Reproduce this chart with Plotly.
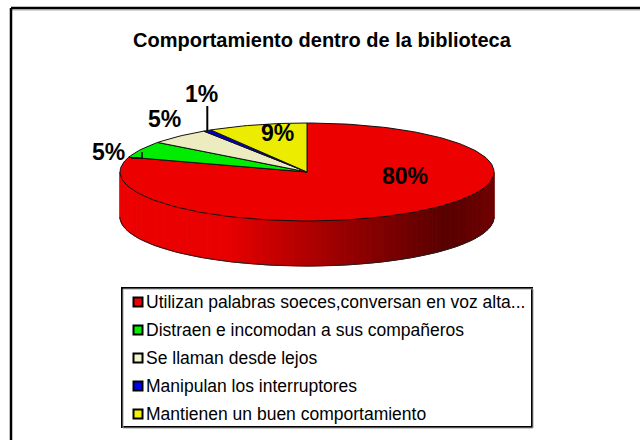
import math
import plotly.graph_objects as go

title = "Comportamiento dentro de la biblioteca"
categories = ["Utilizan palabras soeces,conversan en voz alta...",
              "Distraen e incomodan a sus compañeros",
              "Se llaman desde lejos",
              "Manipulan los interruptores",
              "Mantienen un buen comportamiento"]
values = [79.9, 5.4, 5.4, 0.7, 8.6]
top_colors = ["#EC0000", "#00EC00", "#ECECC0", "#0000CC", "#ECEC00"]
legend_colors = ["#F00000", "#00F000", "#F4F4CC", "#0000F0", "#F4F400"]
labels = ["80%", "5%", "5%", "1%", "9%"]
label_pos = [(405, 176), (108, 152), (164, 119), (201, 94), (277, 133)]

CX, CY, RX, RY, DEPTH = 307, 172, 187, 49, 45
FONT = "Liberation Sans, Arial, sans-serif"


def pt(deg, dy=0):
    a = math.radians(deg)
    return CX + RX * math.sin(a), CY - RY * math.cos(a) + dy


def arc(a0, a1, dy=0):
    n = max(2, int(abs(a1 - a0) / 1.5) + 1)
    return [pt(a0 + (a1 - a0) * i / (n - 1), dy) for i in range(n)]


def side_color(x):
    stops = [(120, (236, 0, 0)), (225, (232, 0, 0)), (330, (160, 0, 0)),
             (445, (88, 0, 0)), (494, (112, 0, 0))]
    for (x0, c0), (x1, c1) in zip(stops, stops[1:]):
        if x <= x1:
            t = (x - x0) / (x1 - x0)
            c = [round(p + (q - p) * t) for p, q in zip(c0, c1)]
            return f"rgb({c[0]},{c[1]},{c[2]})"
    return "rgb(112,0,0)"


fig = go.Figure()


def poly(points, fill, line="black", width=1):
    fig.add_trace(go.Scatter(x=[p[0] for p in points] + [points[0][0]],
                             y=[p[1] for p in points] + [points[0][1]],
                             mode="lines", fill="toself", fillcolor=fill,
                             line=dict(color=line, width=width),
                             hoverinfo="skip", showlegend=False))


# side wall of the wedge that crosses the front of the pie
step = 2
for a in range(90, 270, step):
    pts = arc(a, a + step) + arc(a + step, a, DEPTH)
    col = side_color((pts[0][0] + pts[1][0]) / 2)
    poly(pts, col, col, 1)
fig.add_trace(go.Scatter(x=[p[0] for p in arc(90, 270, DEPTH)],
                         y=[p[1] for p in arc(90, 270, DEPTH)],
                         mode="lines", line=dict(color="#202020", width=1),
                         hoverinfo="skip", showlegend=False))

# top faces
total = sum(values)
start = 0
for v, c in zip(values, top_colors):
    end = start + 360 * v / total
    poly([(CX, CY)] + arc(start, end), c, "#101010", 1)
    start = end

# leader lines
blue_mid = 360 * (sum(values[:3]) + values[3] / 2) / total
lead = pt(blue_mid)
fig.add_trace(go.Scatter(x=[lead[0], lead[0]], y=[lead[1], 106], mode="lines",
                         line=dict(color="black", width=2),
                         hoverinfo="skip", showlegend=False))
fig.add_trace(go.Scatter(x=[131, 142, 142], y=[158, 158, 152], mode="lines",
                         line=dict(color="black", width=1.5),
                         hoverinfo="skip", showlegend=False))

# legend swatches
rows = [302, 330, 358, 386, 414]
fig.add_trace(go.Scatter(x=[138] * 5, y=rows, mode="markers",
                         marker=dict(symbol="square", size=9, color=legend_colors,
                                     line=dict(color="black", width=2)),
                         hoverinfo="skip", showlegend=False))

ann = [dict(x=x, y=y, text=t, showarrow=False, xanchor="center", yanchor="middle",
            font=dict(family=FONT, size=23, color="black"))
       for t, (x, y) in zip([f"<b>{s}</b>" for s in labels], label_pos)]
ann += [dict(x=144, y=r, text=c, showarrow=False, xanchor="left", yanchor="middle",
             font=dict(family=FONT, size=17.5, color="black"))
        for c, r in zip(categories, rows)]
ann.append(dict(x=322, y=40, text=f"<b>{title}</b>", showarrow=False, xanchor="center",
                yanchor="middle", font=dict(family=FONT, size=20, color="black")))

shapes = [
    dict(type="line", x0=12, x1=640, y0=10, y1=10, line=dict(color="#B0B0B0", width=1)),
    dict(type="line", x0=11, x1=640, y0=8, y1=8, line=dict(color="black", width=2.5)),
    dict(type="line", x0=11, x1=11, y0=8, y1=440, line=dict(color="black", width=2.5)),
    dict(type="rect", x0=123, x1=533, y0=289, y1=428, line=dict(color="#A0A0A0", width=1)),
    dict(type="rect", x0=122, x1=532, y0=288, y1=427, line=dict(color="black", width=2),
         fillcolor="white", layer="below"),
]

fig.update_layout(
    width=640, height=440, margin=dict(l=0, r=0, t=0, b=0),
    paper_bgcolor="white", plot_bgcolor="white", showlegend=False,
    xaxis=dict(range=[0, 640], visible=False, fixedrange=True),
    yaxis=dict(range=[440, 0], visible=False, fixedrange=True),
    annotations=ann, shapes=shapes,
)
fig.write_html("out.html", config=dict(displayModeBar=False),
               post_script="document.body.style.margin='0';")
